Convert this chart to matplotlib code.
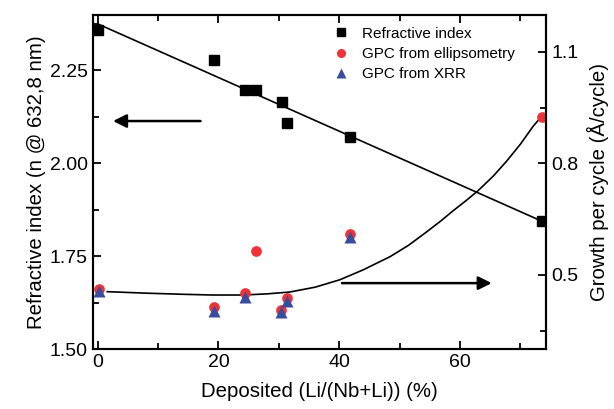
import numpy as np
import matplotlib
matplotlib.use('Agg')
import matplotlib.pyplot as plt
from matplotlib.ticker import MultipleLocator

plt.rcParams['font.family'] = ['Liberation Sans', 'DejaVu Sans']

# refractive index (left axis)
ri_x = [0.0, 19.3, 24.4, 26.2, 30.5, 31.3, 41.8, 73.5]
ri_y = [2.358, 2.279, 2.197, 2.197, 2.166, 2.108, 2.070, 1.846]

# GPC from ellipsometry (right axis)
ell_x = [0.2, 19.3, 24.4, 26.3, 30.4, 31.4, 41.8, 73.5]
ell_y = [0.462, 0.415, 0.451, 0.565, 0.406, 0.437, 0.609, 0.925]

# GPC from XRR (right axis)
xrr_x = [0.2, 19.3, 24.4, 30.4, 31.4, 41.8]
xrr_y = [0.458, 0.404, 0.440, 0.399, 0.431, 0.603]

# guide-to-the-eye curve (right axis)
curve_x = [1.6, 8.0, 14.0, 19.0, 24.0, 28.0, 31.8, 36.0, 40.1, 44.0, 48.4,
           51.5, 54.4, 56.8, 58.8, 61.0, 63.0, 65.5, 67.7, 70.0, 72.1, 73.0]
curve_y = [0.455, 0.451, 0.448, 0.446, 0.446, 0.449, 0.454, 0.467, 0.487,
           0.514, 0.549, 0.580, 0.615, 0.645, 0.672, 0.700, 0.727, 0.766,
           0.806, 0.852, 0.900, 0.917]

fig = plt.figure(figsize=(6.14, 4.09), dpi=100)
ax = fig.add_axes([0.151, 0.146, 0.739, 0.818])
ax2 = ax.twinx()

# linear fit of refractive index
p = np.polyfit(ri_x, ri_y, 1)
fx = np.array([0.0, 73.5])
ax.plot(fx, np.polyval(p, fx), color='k', lw=1.2)
h1, = ax.plot(ri_x, ri_y, 's', color='k', ms=7.5, label='Refractive index')

ax2.plot(curve_x, curve_y, color='k', lw=1.2)
h2, = ax2.plot(ell_x, ell_y, 'o', color='#ee3338', ms=7.7, mec='none',
               label='GPC from ellipsometry')
h3, = ax2.plot(xrr_x, xrr_y, '^', color='#3a4c9c', ms=9, mec='none',
               label='GPC from XRR')

ax.set_xlim(-0.8, 74.3)
ax.set_ylim(1.5, 2.4)
ax2.set_ylim(0.3, 1.2)

ax.xaxis.set_major_locator(MultipleLocator(20))
ax.xaxis.set_minor_locator(MultipleLocator(10))
ax.yaxis.set_major_locator(MultipleLocator(0.25))
ax.yaxis.set_minor_locator(MultipleLocator(0.125))
ax.yaxis.set_major_formatter(matplotlib.ticker.FormatStrFormatter('%.2f'))
ax2.set_yticks([0.5, 0.8, 1.1])
ax2.set_yticks([0.35, 0.65, 0.95], minor=True)
ax2.yaxis.set_major_formatter(matplotlib.ticker.FormatStrFormatter('%.1f'))

ax.tick_params(which='both', direction='in', top=True, labelsize=14, width=1.3)
ax.tick_params(which='major', length=6)
ax.tick_params(which='minor', length=4)
ax2.tick_params(which='both', direction='in', labelsize=14, width=1.3)
ax2.tick_params(which='major', length=6)
ax2.tick_params(which='minor', length=4)
for a in (ax, ax2):
    for s in a.spines.values():
        s.set_linewidth(1.5)

ax.set_xlabel('Deposited (Li/(Nb+Li)) (%)', fontsize=14.7, labelpad=8)
ax.set_ylabel('Refractive index (n @ 632,8 nm)', fontsize=14.7, labelpad=3)
ax2.set_ylabel('Growth per cycle (Å/cycle)', fontsize=14.7, labelpad=6)

# arrows pointing to each axis
ax.annotate('', xy=(2.1, 2.114), xytext=(17.5, 2.114),
            arrowprops=dict(arrowstyle='-|>', color='k', lw=1.8, mutation_scale=20))
ax2.annotate('', xy=(65.7, 0.478), xytext=(40.0, 0.478),
             arrowprops=dict(arrowstyle='-|>', color='k', lw=1.8, mutation_scale=20))

ax2.legend(handles=[h1, h2, h3], loc='upper left', bbox_to_anchor=(0.496, 1.005),
           frameon=False, fontsize=11, handletextpad=0.8, labelspacing=0.4,
           handlelength=1.2, markerscale=0.85)

fig.savefig('out.png', dpi=100)
